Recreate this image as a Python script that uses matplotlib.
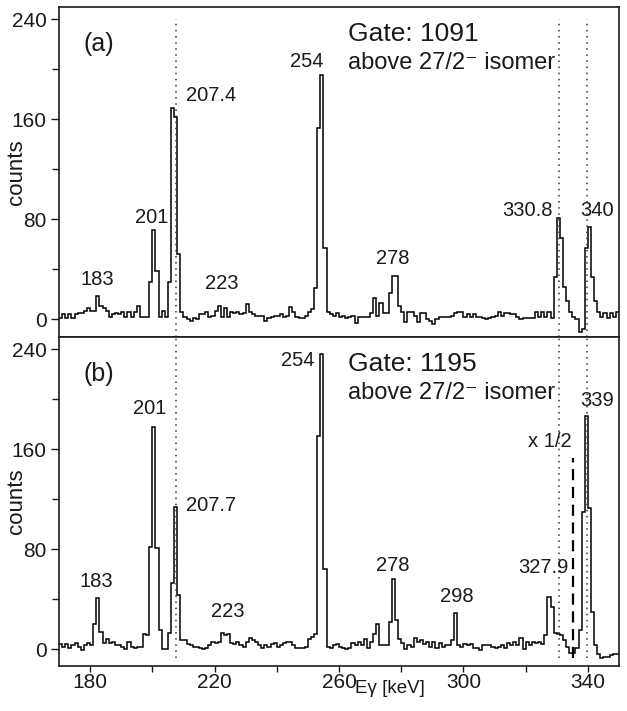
import numpy as np
import matplotlib
matplotlib.use('Agg')
import matplotlib.pyplot as plt

plt.rcParams['font.family'] = ['Liberation Sans', 'DejaVu Sans']

# 1 keV bins, 170..350 keV
bin_lo = 170
bin_width = 1.0

# (a) gate 1091
counts_a = [
    1, 4, 1, 4, 1, 4, 5, 5, 7, 9,            # 170
    7, 7, 19, 11, 9, 7, 2, 4, 5, 4,          # 180
    6, 2, 6, 2, 6, 11, 2, 2, 2, 30,          # 190
    71, 39, 2, 7, 2, 30, 169, 162, 52, 6,    # 200
    2, 0, -1, 1, 0, 4, 4, 6, 2, 3,           # 210
    7, 11, 2, 9, 2, 6, 5, 6, 4, 5,           # 220
    12, 6, 4, 3, 3, 3, -1, 1, 2, 3,          # 230
    3, 4, 2, 3, 10, 6, 2, 1, 1, 3,           # 240
    6, 8, 25, 153, 195, 57, 6, 4, 3, 5,      # 250
    2, 3, 1, 2, 3, -3, 2, 2, 2, 2,           # 260
    5, 17, 3, 13, 5, 5, 21, 35, 35, 11,      # 270
    6, -2, 6, 6, 3, -2, 5, 5, 0, -1,         # 280
    -4, 0, 2, 2, 2, 2, 3, 5, 6, 6,           # 290
    2, 4, 2, 4, 2, 2, 1, 0, 1, 2,            # 300
    3, 6, 3, 5, 5, 4, 4, 2, 0, 1,            # 310
    1, 1, 1, 6, 2, 6, 2, 6, 1, 34,           # 320
    81, 65, 26, 15, 6, 2, 0, -10, -8, 57,    # 330
    74, 34, 15, 6, 2, 5, 1, 5, 2, 6,         # 340
]

# (b) gate 1195
counts_b = [
    4, 2, 4, 1, 3, 5, 2, -1, 3, 5,           # 170
    3, 20, 41, 14, 5, 8, 5, 6, 3, 3,         # 180
    2, 0, 6, 2, 1, 2, 2, 12, 11, 82,         # 190
    178, 81, 15, 0, 0, 13, 53, 114, 43, 7,   # 200
    7, 4, 3, 2, 2, 1, 0, 1, 3, 6,            # 210
    5, 6, 13, 11, 12, 5, 4, 6, 3, 2,         # 220
    6, 9, 7, 6, 3, 1, 3, 2, 4, 5,            # 230
    2, 3, 5, 6, 6, 3, 1, 1, 1, 2,            # 240
    8, 10, 12, 171, 236, 64, 2, 1, 3, 4,     # 250
    2, 1, 0, 1, 5, 3, 6, 3, 8, 1,            # 260
    6, 12, 20, 3, 3, 3, 22, 56, 23, 8,       # 270
    5, 0, 3, 2, 9, 6, 7, 4, 6, 2,            # 280
    6, 1, 5, 2, 3, 3, 7, 29, 3, 2,           # 290
    4, 3, 4, 1, 1, -1, 3, 3, 3, 2,           # 300
    1, 2, 3, 1, 5, 3, 6, 3, 9, 0,            # 310
    6, 3, 6, 5, 6, 4, 11, 42, 34, 13,        # 320
    12, 11, 7, 2, -3, -3, 1, 15, 110, 187,   # 330
    113, 30, 3, -4, -7, -6, -6, -5, -4, -4,  # 340
]

dotted_lines = [207.6, 330.8, 339.8]
half_line = 335.1

x_major = [180, 220, 260, 300, 340]
x_minor = [200, 240, 280, 320]
y_major = [0, 80, 160, 240]
y_minor = [40, 120, 200]

# peak labels: text, energy, counts
labels_a = [('183', 182.2, 32), ('201', 199.8, 81), ('207.4', 218.8, 179),
            ('223', 222.3, 29), ('254', 249.7, 206), ('278', 277.2, 49),
            ('330.8', 320.5, 87), ('340', 343.1, 87)]
labels_b = [('183', 182.1, 54), ('201', 199.3, 193), ('207.7', 218.8, 115),
            ('223', 224.4, 30), ('254', 246.9, 231), ('278', 277.2, 67),
            ('298', 297.8, 42), ('327.9', 325.8, 65), ('339', 343.1, 199),
            ('x 1/2', 327.9, 166)]

fig = plt.figure(figsize=(6.27, 7.11), dpi=100)
ax_a = fig.add_axes([0.0941, 0.526, 0.8931, 0.4642])
ax_b = fig.add_axes([0.0941, 0.0633, 0.8931, 0.4627])

edges = bin_lo + bin_width * np.arange(len(counts_a) + 1)
tc = '#1a1a1a'

for ax, counts, labels, tag, gate, ylo in [
        (ax_a, counts_a, labels_a, '(a)', 'Gate: 1091', -14.2),
        (ax_b, counts_b, labels_b, '(b)', 'Gate: 1195', -13.4)]:
    ax.stairs(counts, edges, baseline=None, color='black', lw=1.1)
    ax.set_xlim(170, 350)
    ax.set_ylim(ylo, 249.8)
    ax.set_xticks(x_major)
    ax.set_xticks(x_minor, minor=True)
    ax.set_yticks(y_major)
    ax.set_yticks(y_minor, minor=True)
    ax.tick_params(axis='both', which='both', direction='out', colors=tc,
                   labelsize=15, width=1)
    ax.tick_params(axis='y', which='major', length=6, pad=3)
    ax.tick_params(axis='y', which='minor', length=5)
    ax.tick_params(axis='x', which='both', length=4, pad=1)
    for sp in ax.spines.values():
        sp.set_linewidth(1.2)
        sp.set_color(tc)
    ax.set_ylabel('counts', fontsize=16, color=tc)
    ax.yaxis.set_label_coords(-0.058, 0.5)

    for txt, ex, cy in labels:
        ax.text(ex, cy, txt, fontsize=14.5, ha='center', va='center', color=tc)
    ax.text(182.9, 220, tag, fontsize=18, ha='center', va='center', color=tc)
    ax.text(262.9, 228, gate, fontsize=19, ha='left', va='center', color=tc)
    ax.text(262.9, 205, 'above 27/2\u207b isomer', fontsize=17,
            ha='left', va='center', color=tc)

ax_a.tick_params(axis='x', labelbottom=False)

for xe in dotted_lines:
    ax_a.plot([xe, xe], [-14.2, 240], color='#333333', lw=1.1, ls=(0, (1, 3)))
    ax_b.plot([xe, xe], [-7, 249.8], color='#333333', lw=1.1, ls=(0, (1, 3)))
ax_b.plot([half_line, half_line], [-7, 153], color='black', lw=1.6, ls=(0, (5, 3)))

fig.text(0.622, 0.032, 'Eγ [keV]', fontsize=13.5, ha='center', va='center', color=tc)

plt.savefig('out.png', dpi=100)
